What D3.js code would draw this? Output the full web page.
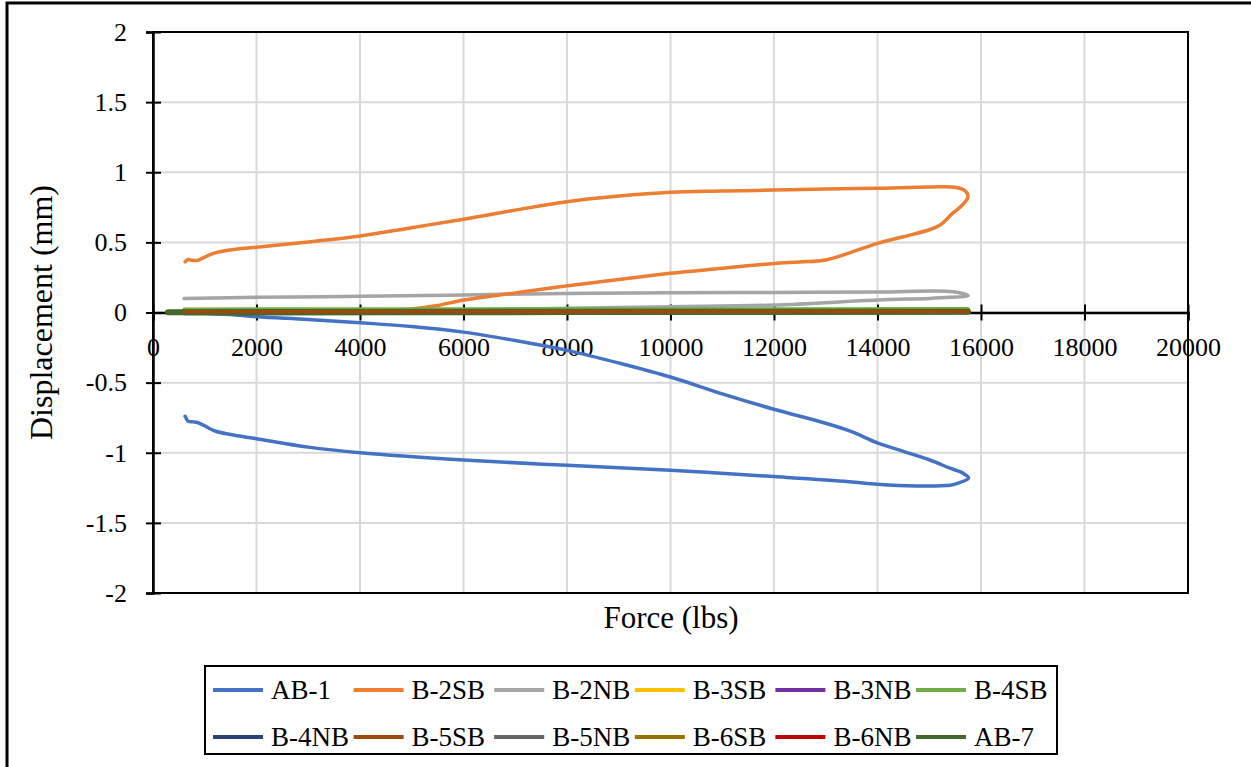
<!doctype html>
<html>
<head>
<meta charset="utf-8">
<title>Force vs Displacement</title>
<script src="https://cdn.jsdelivr.net/npm/d3@7"></script>
<style>
  body { margin: 0; background: #fff; }
  text { font-family: "Liberation Serif", "Times New Roman", serif; fill: #000; }
</style>
</head>
<body>
<div id="chart-area"></div>
<script>
  // series values, [force (lbs), displacement (mm)]
  var ab1 = [[600, 0], [1000, -0.005], [1500, -0.015], [2000, -0.03], [3000, -0.05], [4000, -0.073],
    [5000, -0.1], [6000, -0.14], [7000, -0.2], [8000, -0.27], [9000, -0.36], [10000, -0.46],
    [11000, -0.58], [12000, -0.69], [13000, -0.79], [13500, -0.85], [14000, -0.93], [14500, -0.99],
    [15000, -1.05], [15400, -1.11], [15650, -1.145], [15760, -1.18], [15530, -1.22], [15400, -1.232],
    [14750, -1.237], [14000, -1.225], [13450, -1.206], [12000, -1.17], [10000, -1.125], [8000, -1.09],
    [6000, -1.052], [4000, -1.0], [3000, -0.96], [2000, -0.9], [1500, -0.87], [1200, -0.845],
    [900, -0.79], [780, -0.78], [680, -0.775], [650, -0.76], [620, -0.74]];
  var b2sb = [[600, 0.01], [2000, 0.01], [4000, 0.012], [4500, 0.015], [4900, 0.022], [5500, 0.05],
    [6000, 0.089], [7000, 0.14], [7865, 0.184], [8450, 0.21], [9000, 0.235], [10000, 0.28],
    [11000, 0.315], [12000, 0.35], [12500, 0.36], [13000, 0.375], [13500, 0.43], [14000, 0.493],
    [14500, 0.54], [15000, 0.59], [15210, 0.624], [15460, 0.71], [15650, 0.77], [15750, 0.826],
    [15700, 0.865], [15500, 0.893], [15000, 0.895], [14000, 0.886], [13000, 0.88], [12000, 0.873],
    [11000, 0.866], [10000, 0.857], [9000, 0.83], [8000, 0.79], [7000, 0.73], [6000, 0.665],
    [5000, 0.605], [4000, 0.545], [3000, 0.503], [2000, 0.466], [1500, 0.446], [1200, 0.425],
    [1000, 0.395], [870, 0.372], [750, 0.372], [680, 0.378], [620, 0.362]];
  var b2nb = [[600, 0.015], [4000, 0.017], [6000, 0.02], [8000, 0.03], [10000, 0.041], [12000, 0.053],
    [14000, 0.089], [15000, 0.1], [15400, 0.108], [15750, 0.12], [15460, 0.148], [14000, 0.146],
    [12000, 0.143], [10000, 0.14], [8000, 0.136], [6000, 0.125], [4000, 0.115], [2000, 0.108],
    [600, 0.1]];
  var b3sb = [[600, 0.018], [8000, 0.019], [15750, 0.02], [8000, 0.018], [600, 0.017]];
  var b3nb = [[600, 0.012], [8000, 0.013], [15750, 0.014], [8000, 0.012], [600, 0.011]];
  var b4sb = [[600, 0.024], [8000, 0.025], [15750, 0.026], [8000, 0.024], [600, 0.023]];
  var b4nb = [[600, 0.008], [8000, 0.009], [15750, 0.01], [8000, 0.008], [600, 0.007]];
  var b5sb = [[600, 0.006], [8000, 0.007], [15750, 0.008], [8000, 0.006], [600, 0.005]];
  var b5nb = [[600, 0.015], [8000, 0.016], [15750, 0.017], [8000, 0.015], [600, 0.014]];
  var b6sb = [[600, 0.016], [8000, 0.017], [15750, 0.018], [8000, 0.016], [600, 0.015]];
  var b6nb = [[600, 0.01], [8000, 0.011], [15750, 0.012], [8000, 0.01], [600, 0.009]];
  var ab7 = [[290, 0.002], [4000, 0.004], [15750, 0.006], [8000, 0.003], [600, 0]];

  var names = ['AB-1', 'B-2SB', 'B-2NB', 'B-3SB', 'B-3NB', 'B-4SB',
    'B-4NB', 'B-5SB', 'B-5NB', 'B-6SB', 'B-6NB', 'AB-7'];
  var colors = ['#4472C4', '#ED7D31', '#A5A5A5', '#FFC000', '#7030A0', '#70AD47',
    '#264478', '#9E480E', '#636363', '#997300', '#C00000', '#43682B'];
  var seriesData = [ab1, b2sb, b2nb, b3sb, b3nb, b4sb, b4nb, b5sb, b5nb, b6sb, b6nb, ab7];

  var xTicks = [0, 2000, 4000, 6000, 8000, 10000, 12000, 14000, 16000, 18000, 20000];
  var yTicks = [-2, -1.5, -1, -0.5, 0, 0.5, 1, 1.5, 2];

  var W = 1251, H = 767;
  var margin = {left: 153, right: 63, top: 32, bottom: 174};
  var width = W - margin.left - margin.right;
  var height = H - margin.top - margin.bottom;

  var svg = d3.select('#chart-area')
      .append('svg')
      .attr('width', W)
      .attr('height', H);

  // outer frame (cut off at right and bottom)
  svg.append('path')
      .attr('d', 'M7,' + H + 'V3H' + W)
      .attr('fill', 'none')
      .attr('stroke', '#000')
      .attr('stroke-width', 3);

  var g = svg.append('g')
      .attr('transform', 'translate(' + margin.left + ',' + margin.top + ')');

  // Scale
  var x = d3.scaleLinear().domain([0, 20000]).range([0, width]);
  var y = d3.scaleLinear().domain([-2, 2]).range([height, 0]);

  // grid
  g.selectAll('.vgrid')
      .data(xTicks.slice(1, -1))
      .enter().append('line')
      .attr('x1', function(d) { return x(d); })
      .attr('x2', function(d) { return x(d); })
      .attr('y1', 0)
      .attr('y2', height)
      .attr('stroke', '#D9D9D9')
      .attr('stroke-width', 2);
  g.selectAll('.hgrid')
      .data(yTicks.slice(1, -1))
      .enter().append('line')
      .attr('x1', 0)
      .attr('x2', width)
      .attr('y1', function(d) { return y(d); })
      .attr('y2', function(d) { return y(d); })
      .attr('stroke', '#D9D9D9')
      .attr('stroke-width', 2);

  // plot area border
  g.append('rect')
      .attr('x', 0)
      .attr('y', 0)
      .attr('width', width)
      .attr('height', height)
      .attr('fill', 'none')
      .attr('stroke', '#000')
      .attr('stroke-width', 2);

  // Axis (drawn under the series, as in the source)
  var xAxis = g.append('g')
      .attr('transform', 'translate(0,' + y(0) + ')')
      .call(d3.axisBottom(x).tickValues(xTicks).tickSize(8).tickPadding(17)
          .tickFormat(function(d) { return d; }));
  xAxis.selectAll('.tick line').attr('y1', -8).attr('stroke-width', 2);
  xAxis.select('.domain').attr('stroke-width', 2.5);
  xAxis.selectAll('text')
      .attr('font-size', '26px');

  var yAxis = g.append('g')
      .call(d3.axisLeft(y).tickValues(yTicks).tickSize(7).tickPadding(19)
          .tickFormat(function(d) { return d; }));
  yAxis.selectAll('.tick line').attr('x1', 8).attr('stroke-width', 2);
  yAxis.select('.domain').attr('stroke-width', 2.5);
  yAxis.selectAll('text')
      .attr('font-size', '26px');

  // lines
  var line = d3.line()
      .x(function(d) { return x(d[0]); })
      .y(function(d) { return y(d[1]); })
      .curve(d3.curveCatmullRom.alpha(0.5));

  // draw order: near-zero band last so it sits over the axis
  var order = [2, 1, 0, 3, 4, 6, 8, 9, 10, 5, 11, 7];
  order.forEach(function(i) {
    g.append('path')
        .datum(seriesData[i])
        .attr('d', line)
        .attr('fill', 'none')
        .attr('stroke', colors[i])
        .attr('stroke-width', i === 11 ? 6 : 3.5)
        .attr('stroke-linejoin', 'round')
        .attr('stroke-linecap', 'round');
  });

  // Label
  g.append('text')
      .attr('transform', 'rotate(-90)')
      .attr('x', -(y(0)))
      .attr('y', -101)
      .attr('font-size', '32px')
      .attr('text-anchor', 'middle')
      .text('Displacement (mm)');
  g.append('text')
      .attr('x', 518)
      .attr('y', height + 35)
      .attr('font-size', '31px')
      .attr('text-anchor', 'middle')
      .text('Force (lbs)');

  // Legend
  var legend = svg.append('g');
  legend.append('rect')
      .attr('x', 205)
      .attr('y', 666)
      .attr('width', 852)
      .attr('height', 88)
      .attr('fill', '#fff')
      .attr('stroke', '#000')
      .attr('stroke-width', 2);
  var items = legend.selectAll('.item')
      .data(names)
      .enter().append('g')
      .attr('transform', function(d, i) {
        return 'translate(' + (213 + (i % 6) * 140.6) + ',' + (690 + Math.floor(i / 6) * 47) + ')';
      });
  items.append('line')
      .attr('x1', 0)
      .attr('x2', 50)
      .attr('stroke', function(d, i) { return colors[i]; })
      .attr('stroke-width', 4);
  items.append('text')
      .attr('x', 58)
      .attr('dy', '0.35em')
      .attr('font-size', '27px')
      .text(function(d) { return d; });
</script>
</body>
</html>
